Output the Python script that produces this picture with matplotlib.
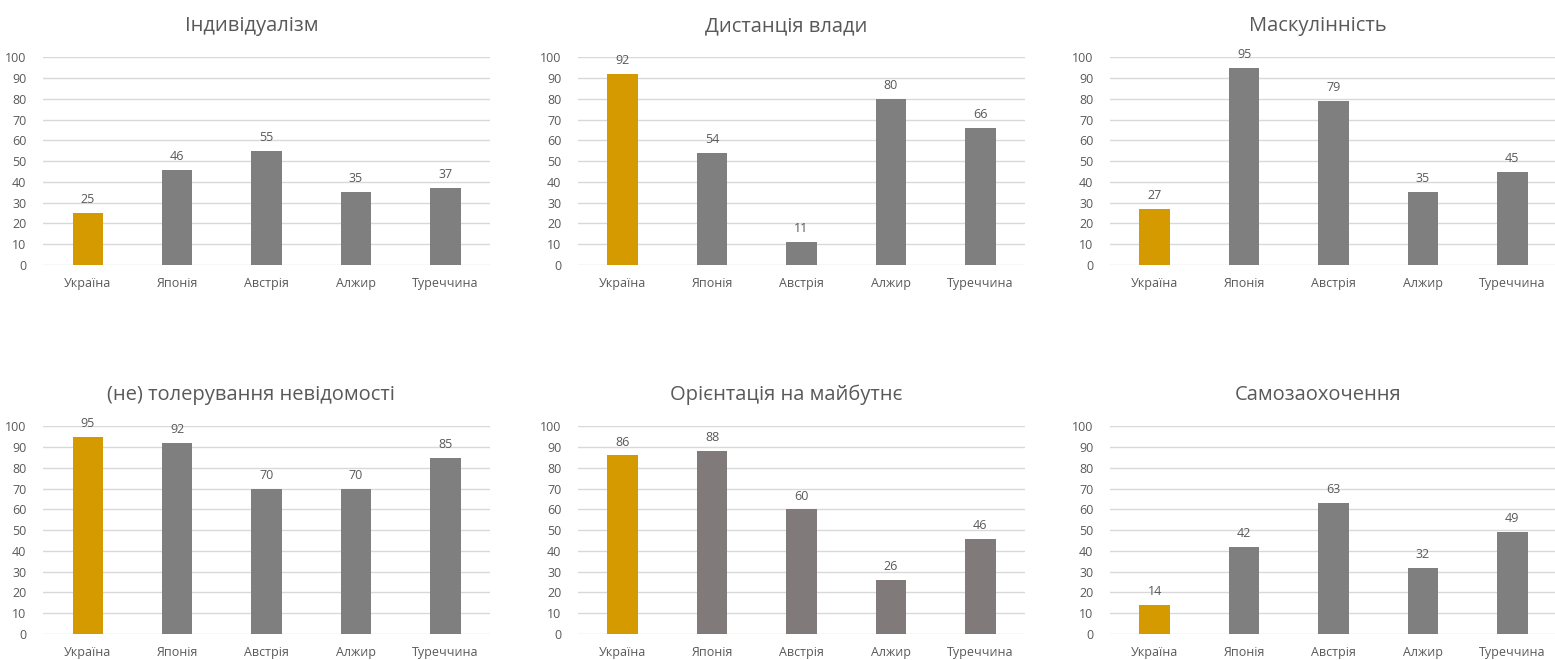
import matplotlib.pyplot as plt

# --- Data ---
countries = ["Україна", "Японія", "Австрія", "Алжир", "Туреччина"]
titles = ["Індивідуалізм", "Дистанція влади", "Маскулінність",
          "(не) толерування невідомості", "Орієнтація на майбутнє", "Самозаохочення"]
individualism = [25, 46, 55, 35, 37]
power_distance = [92, 54, 11, 80, 66]
masculinity = [27, 95, 79, 35, 45]
uncertainty = [95, 92, 70, 70, 85]
long_term = [86, 88, 60, 26, 46]
indulgence = [14, 42, 63, 32, 49]
series = [individualism, power_distance, masculinity, uncertainty, long_term, indulgence]

gold = "#D49A00"
gray = "#7F7F7F"
warm_gray = "#807A7A"
text_col = "#595959"

plt.rcParams['font.family'] = ['Open Sans', 'DejaVu Sans']

fig = plt.figure(figsize=(15.55, 6.6), dpi=100)

lefts = [0.0277, 0.3717, 0.7138]
bottoms = [0.5985, 0.0394]
w, h = 0.2875, 0.3145

for i, (title, vals) in enumerate(zip(titles, series)):
    row, col = divmod(i, 3)
    ax = fig.add_axes([lefts[col], bottoms[row], w, h])
    other = warm_gray if i == 4 else gray
    colors = [gold] + [other] * (len(vals) - 1)
    x = range(len(vals))
    bars = ax.bar(x, vals, width=0.34, color=colors, zorder=3)
    for b, v in zip(bars, vals):
        ax.annotate(str(v), (b.get_x() + b.get_width() / 2, v),
                    xytext=(0, 5), textcoords="offset points",
                    ha="center", va="bottom", fontsize=9, color=text_col)

    ax.set_xlim(-0.5, len(vals) - 0.5)
    ax.set_ylim(0, 100)
    ax.set_yticks(range(0, 101, 10))
    ax.set_xticks(list(x))
    ax.set_xticklabels(countries)
    ax.tick_params(axis='both', length=0, labelsize=9, labelcolor=text_col)
    ax.tick_params(axis='y', pad=12)
    ax.tick_params(axis='x', pad=9)
    ax.grid(axis='y', color="#D9D9D9", linewidth=1, zorder=0)
    ax.set_axisbelow(True)
    for s in ax.spines.values():
        s.set_visible(False)
    # title centred over the whole chart area (incl. y labels), like Excel
    ax.set_title(title, fontsize=14.5, color=text_col, pad=19, x=0.466)

fig.savefig("out.png", dpi=100)
